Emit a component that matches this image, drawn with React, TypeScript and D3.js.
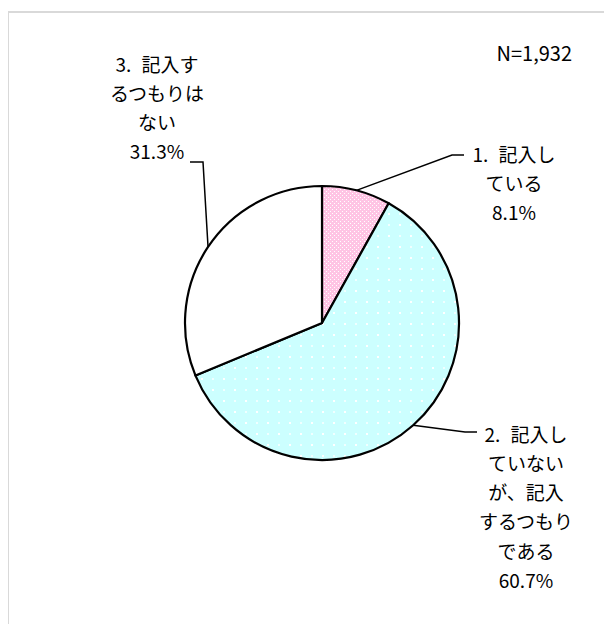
import * as d3 from "d3";

const categories = ["1. 記入している", "2. 記入していないが、記入するつもりである", "3. 記入するつもりはない"];
const values = [8.1, 60.7, 31.3];
const labelLines = [
  ["1. 記入し", "ている", "8.1%"],
  ["2. 記入し", "ていない", "が、記入", "するつもり", "である", "60.7%"],
  ["3. 記入す", "るつもりは", "ない", "31.3%"],
];
const totalLabel = "N=1,932";

const fills = ["url(#pinkDots)", "url(#cyanDots)", "#ffffff"];

// label anchor (centre x, first line y) and leader elbow, page coords
const labelPos = [
  { x: 514, y: 153, elbow: [452, 155], end: [464, 155] },
  { x: 526, y: 433, elbow: [465, 432], end: [477, 432] },
  { x: 157, y: 63, elbow: [203, 162], end: [190, 162] },
];

export default function App() {
  const width = 604;
  const height = 616;
  const cx = 322;
  const cy = 323;
  const r = 137;
  const lineH = 29.3;
  const font = "'Noto Sans CJK JP', 'Noto Sans', sans-serif";

  const pie = d3.pie<number>().sort(null).value((d) => d);
  const arcs = pie(values);
  const arc = d3.arc<d3.PieArcDatum<number>>().innerRadius(0).outerRadius(r);

  return (
    <svg width={width} height={height} style={{ display: "block" }}>
      <defs>
        <pattern id="pinkDots" width={4} height={4} patternUnits="userSpaceOnUse">
          <rect width={4} height={4} fill="#ffc4e4" />
          <rect x={0} y={0} width={1} height={1} fill="#ffffff" />
          <rect x={2} y={2} width={1} height={1} fill="#ffffff" />
        </pattern>
        <pattern id="cyanDots" width={22} height={22} patternUnits="userSpaceOnUse">
          <rect width={22} height={22} fill="#ccffff" />
          <rect x={0} y={0} width={2} height={2} fill="#ffffff" />
          <rect x={11} y={11} width={2} height={2} fill="#ffffff" />
          <rect x={0} y={11} width={2} height={2} fill="#f0ffff" />
          <rect x={11} y={0} width={2} height={2} fill="#f0ffff" />
        </pattern>
      </defs>
      <g transform="translate(-8,-8)">
        <path d="M8,650 V12 H630" fill="none" stroke="#d9d9d9" strokeWidth={2} />

        <g transform={`translate(${cx},${cy})`}>
          {arcs.map((a, i) => (
            <path key={categories[i]} d={arc(a) ?? ""} fill={fills[i]} stroke="#000" strokeWidth={2.2} strokeLinejoin="round" />
          ))}
        </g>

        {arcs.map((a, i) => {
          const mid = (a.startAngle + a.endAngle) / 2;
          const px = cx + r * Math.sin(mid);
          const py = cy - r * Math.cos(mid);
          const p = labelPos[i];
          return (
            <path
              key={"l" + i}
              d={`M${px},${py} L${p.elbow[0]},${p.elbow[1]} L${p.end[0]},${p.end[1]}`}
              fill="none"
              stroke="#000"
              strokeWidth={1.5}
            />
          );
        })}

        {labelLines.map((lines, i) => (
          <text key={"t" + i} fontFamily={font} fontSize={19} fill="#000" textAnchor="middle" style={{ whiteSpace: "pre", wordSpacing: "6px" }}>
            {lines.map((s, j) => (
              <tspan key={j} x={labelPos[i].x} y={labelPos[i].y + j * lineH} dominantBaseline="central">
                {s}
              </tspan>
            ))}
          </text>
        ))}

        <text x={572} y={52} fontFamily={font} fontSize={20} textAnchor="end" dominantBaseline="central" fill="#000">
          {totalLabel}
        </text>
      </g>
    </svg>
  );
}
